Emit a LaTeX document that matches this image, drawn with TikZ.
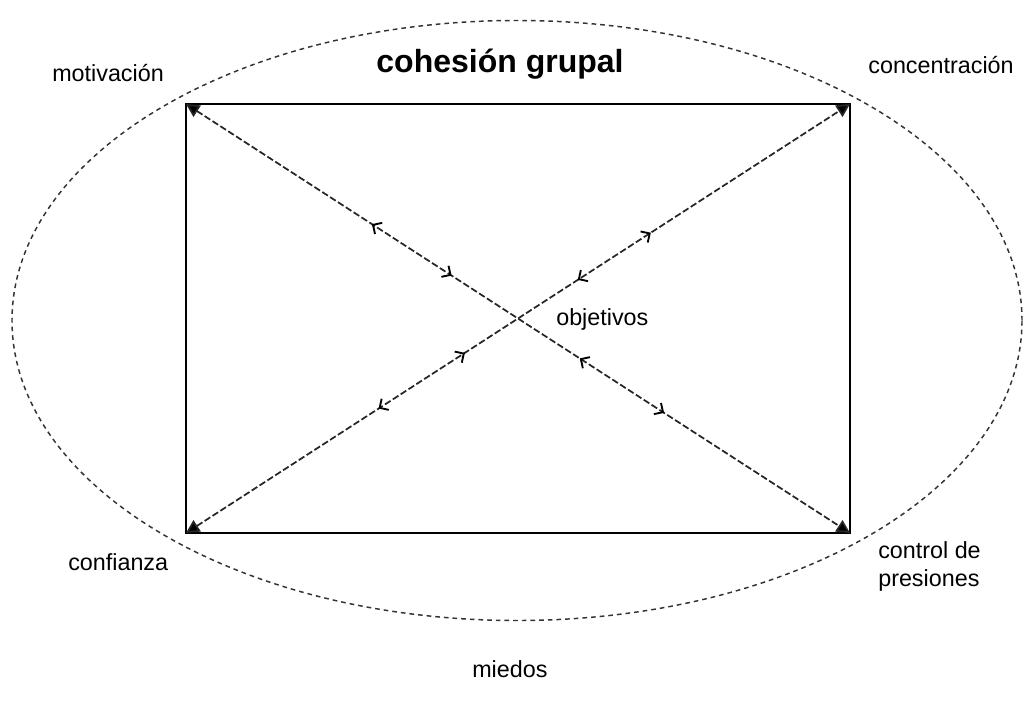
\documentclass[tikz,border=0pt]{standalone}
\usepackage{fontspec}
\setmainfont{Liberation Sans}
\usetikzlibrary{arrows.meta,decorations.markings}

\tikzset{
  label/.style={inner sep=0pt, font=\fontsize{17.5}{21}\selectfont},
  titlelabel/.style={inner sep=0pt, font=\fontsize{24}{26}\selectfont\bfseries},
  frame/.style={line width=1.5pt},
  bound/.style={line width=1.1pt, dash pattern=on 3.5pt off 3pt, black!80},
  diag/.style={line width=1.3pt, dash pattern=on 5pt off 2pt, black!85,
    {Triangle[length=10pt,width=10pt,fill=black]}-{Triangle[length=10pt,width=10pt,fill=black]}},
  flowmarks/.style n args={4}{postaction={decorate}, decoration={markings,
    mark=at position #1 with {\arrowreversed[black,solid]{Straight Barb[angle=90:7pt,line width=1.4pt]}},
    mark=at position #2 with {\arrow[black,solid]{Straight Barb[angle=90:7pt,line width=1.4pt]}},
    mark=at position #3 with {\arrowreversed[black,solid]{Straight Barb[angle=90:7pt,line width=1.4pt]}},
    mark=at position #4 with {\arrow[black,solid]{Straight Barb[angle=90:7pt,line width=1.4pt]}}}}
}

\begin{document}
\begin{tikzpicture}[x=0.75pt, y=-0.75pt]
  \useasboundingbox (0,0) rectangle (1023,703);

  % corners of the square of factors
  \coordinate (tl) at (186,104);
  \coordinate (tr) at (850,104);
  \coordinate (br) at (850,533);
  \coordinate (bl) at (186,533);

  % surrounding group boundary
  \draw[bound] (517,320.5) ellipse [x radius=378.75pt, y radius=225pt];

  % frame
  \draw[frame] (tl) -- (tr) -- (br) -- (bl) -- cycle;

  % crossing diagonals with the two-way flows
  \draw[diag, flowmarks={0.28}{0.40}{0.593}{0.72}] (tl) -- (br);
  \draw[diag, flowmarks={0.29}{0.42}{0.59}{0.70}] (bl) -- (tr);

  % labels
  \node[titlelabel, anchor=base] (title) at (500,72) {cohesión grupal};
  \node[label, anchor=base west] (mot) at (52,81) {motivación};
  \node[label, anchor=base] (conc) at (941,73) {concentración};
  \node[label, anchor=base west] (obj) at (556,325) {objetivos};
  \node[label, anchor=base west] (conf) at (68,570) {confianza};
  \node[label, anchor=base west, align=left] (ctrl) at (878,586) {control de\\presiones};
  \node[label, anchor=base west] (mied) at (472,677) {miedos};
\end{tikzpicture}
\end{document}
